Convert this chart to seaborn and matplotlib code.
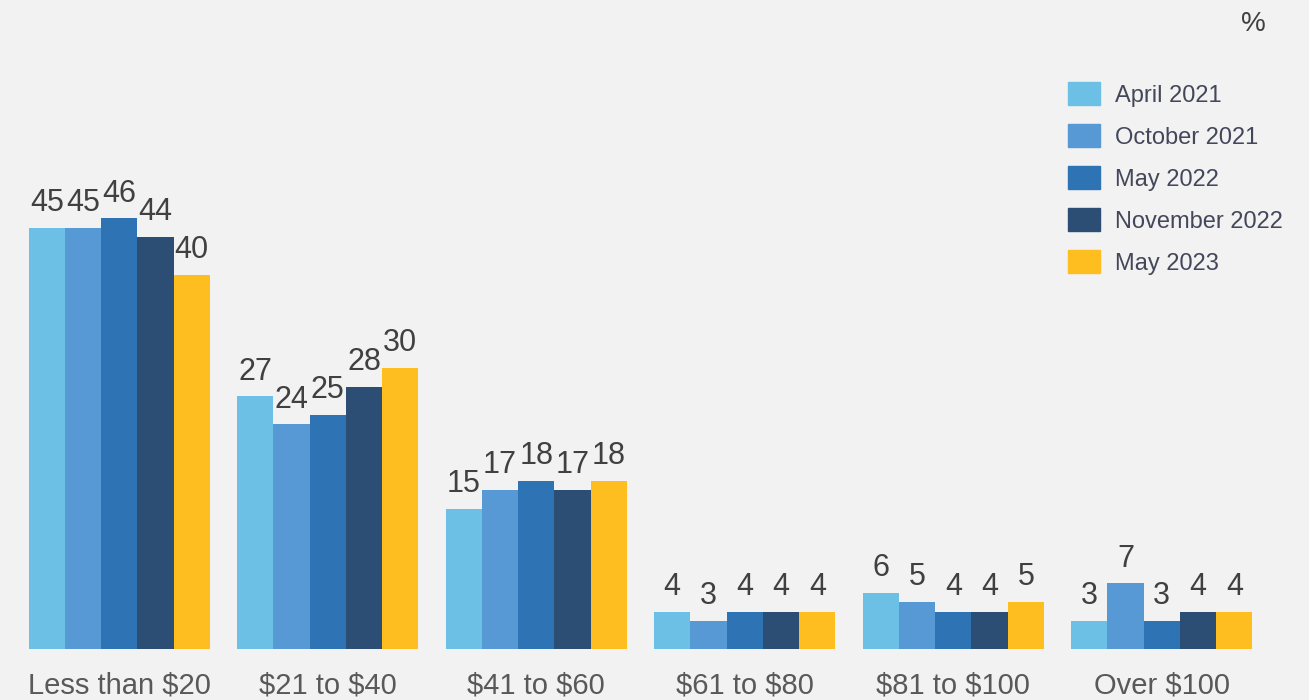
import numpy as np
import pandas as pd
import seaborn as sns
import matplotlib.pyplot as plt

# spending brackets and survey waves
categories = ["Less than $20", "$21 to $40", "$41 to $60", "$61 to $80", "$81 to $100", "Over $100"]
waves = ["April 2021", "October 2021", "May 2022", "November 2022", "May 2023"]
april_2021 = [45, 27, 15, 4, 6, 3]
october_2021 = [45, 24, 17, 3, 5, 7]
may_2022 = [46, 25, 18, 4, 4, 3]
november_2022 = [44, 28, 17, 4, 4, 4]
may_2023 = [40, 30, 18, 4, 5, 4]
colors = ["#6CC0E5", "#5699D4", "#2E74B5", "#2D4E74", "#FEBE1F"]

series = [april_2021, october_2021, may_2022, november_2022, may_2023]
rows = []
for w, vals in zip(waves, series):
    for c, v in zip(categories, vals):
        rows.append({"category": c, "wave": w, "value": v})
df = pd.DataFrame(rows)

sns.set_theme(style="white")
plt.rcParams["font.family"] = ["Liberation Sans", "DejaVu Sans"]
plt.rcParams["text.parse_math"] = False  # dollar signs are literal

bg = "#F2F2F2"
fig = plt.figure(figsize=(13.09, 7.0), dpi=100, facecolor=bg)
ax = fig.add_axes([15 / 1309, 51 / 700, 1251 / 1309, 619 / 700])
ax.set_facecolor(bg)

sns.barplot(data=df, x="category", y="value", hue="wave", order=categories,
            hue_order=waves, palette=colors, width=0.87, saturation=1,
            edgecolor="none", linewidth=0, ax=ax, legend=False)

for cont in ax.containers:
    ax.bar_label(cont, fmt="%d", padding=7, fontsize=22, color="#404040")

ax.set_xlim(-0.5, 5.5)
ax.set_ylim(0, 619 / 9.36)
ax.set_xlabel("")
ax.set_ylabel("")
ax.set_yticks([])
ax.tick_params(axis="x", length=0, pad=16, labelsize=21, labelcolor="#595959")
for s in ax.spines.values():
    s.set_visible(False)

handles = [plt.Rectangle((0, 0), 1, 1, color=c) for c in colors]
fig.legend(handles, waves, loc="upper left",
           bbox_to_anchor=(1068 / 1309, 1 - 82 / 700), frameon=False,
           fontsize=17, labelcolor="#44475A", handlelength=1.36,
           handleheight=1.15, handletextpad=0.64, labelspacing=0.73,
           borderpad=0, borderaxespad=0)

fig.text(1253 / 1309, 1 - 24 / 700, "%", fontsize=20, color="#404040",
         ha="center", va="center")

fig.savefig("out.png", dpi=100, facecolor=bg)
